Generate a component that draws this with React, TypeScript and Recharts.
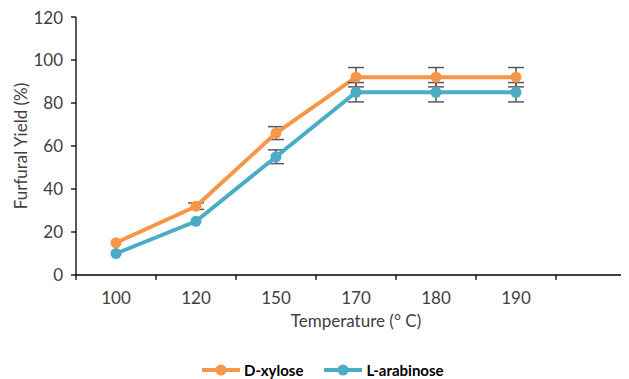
import React from "react";
import { LineChart, Line, XAxis, YAxis, ErrorBar, Legend } from "recharts";

const temperatures = ["100", "120", "150", "170", "180", "190", ""];
const xyloseYield = [15, 32, 66, 92, 92, 92, null];
const xyloseError = [null, 1.5, 3, 4.5, 4.5, 4.5, null];
const arabinoseYield = [10, 25, 55, 85, 85, 85, null];
const arabinoseError = [null, null, 3.2, 4.5, 4.5, 4.5, null];
const yTicks = [0, 20, 40, 60, 80, 100, 120];

const SERIES = [
  { key: "xylose", name: "D-xylose", color: "#F79646" },
  { key: "arabinose", name: "L-arabinose", color: "#4BACC6" },
];

const CHART_W = 640;
const CHART_H = 371;
const Y_AXIS_W = 68;
const MARGIN = { top: 9, right: 12, left: 0, bottom: 0 };
const PLOT_W = CHART_W - Y_AXIS_W - MARGIN.left - MARGIN.right;
const HALF_BAND = PLOT_W / temperatures.length / 2;
const FONT = "Lato, 'Open Sans', sans-serif";
const TEXT = "#404040";

const data = temperatures.map((t, i) => ({
  temperature: t,
  xylose: xyloseYield[i],
  xyloseErr: xyloseError[i],
  arabinose: arabinoseYield[i],
  arabinoseErr: arabinoseError[i],
}));

const TemperatureTick = (props: any) => {
  const { x, y, payload, index } = props;
  const last = index === temperatures.length - 1;
  return (
    <g>
      <line x1={x - HALF_BAND} x2={x - HALF_BAND} y1={y} y2={y + 5} stroke="#000" strokeWidth={1.3} />
      {last && (
        <line x1={x + HALF_BAND} x2={x + HALF_BAND} y1={y} y2={y + 5} stroke="#000" strokeWidth={1.3} />
      )}
      <text
        x={x}
        y={y + 22}
        textAnchor="middle"
        dominantBaseline="central"
        fill={TEXT}
        fontSize={17}
        fontFamily={FONT}
      >
        {payload.value}
      </text>
    </g>
  );
};

const YAxisTitle = (props: any) => {
  const { viewBox } = props;
  const cx = viewBox.x + 12;
  const cy = viewBox.y + viewBox.height / 2;
  return (
    <text
      x={cx}
      y={cy}
      transform={`rotate(-90 ${cx} ${cy})`}
      textAnchor="middle"
      dominantBaseline="central"
      fill={TEXT}
      fontSize={17}
      fontFamily={FONT}
    >
      Furfural Yield (%)
    </text>
  );
};

const LegendContent = () => (
  <div
    style={{
      display: "flex",
      alignItems: "center",
      height: 20,
      paddingLeft: 194,
      transform: "translateY(1px)",
      fontFamily: FONT,
      fontWeight: 700,
      fontSize: 15,
      color: "#000",
    }}
  >
    {SERIES.map((s) => (
      <div key={s.key} style={{ display: "flex", alignItems: "center", marginRight: 21 }}>
        <svg width={40} height={14} style={{ marginRight: 2 }}>
          <line x1={0} x2={38} y1={7} y2={7} stroke={s.color} strokeWidth={4} />
          <circle cx={19} cy={7} r={5.5} fill={s.color} />
        </svg>
        <span>{s.name}</span>
      </div>
    ))}
  </div>
);

export default function App() {
  return (
    <div style={{ width: 621, height: CHART_H, overflow: "hidden", background: "#fff" }}>
      <LineChart width={CHART_W} height={CHART_H} data={data} margin={MARGIN}>
        <XAxis
          dataKey="temperature"
          scale="band"
          interval={0}
          height={84}
          tickSize={0}
          tickMargin={0}
          tick={<TemperatureTick />}
          axisLine={{ stroke: "#000", strokeWidth: 1.3 }}
          label={{
            value: "Temperature (° C)",
            position: "insideTop",
            offset: 40,
            fill: TEXT,
            fontSize: 17,
            fontFamily: FONT,
          }}
        />
        <YAxis
          width={Y_AXIS_W}
          domain={[0, 120]}
          ticks={yTicks}
          tickSize={5}
          tickMargin={8}
          axisLine={{ stroke: "#000", strokeWidth: 1.3 }}
          tickLine={{ stroke: "#000", strokeWidth: 1.3 }}
          tick={{ fill: TEXT, fontSize: 17, fontFamily: FONT }}
          label={<YAxisTitle />}
        />
        <Legend
          verticalAlign="bottom"
          content={<LegendContent />}
          wrapperStyle={{ left: 0, width: CHART_W, height: 20 }}
        />
        {SERIES.map((s) => (
          <Line
            key={s.key}
            dataKey={s.key}
            name={s.name}
            stroke={s.color}
            strokeWidth={4}
            dot={{ r: 5.5, fill: s.color, stroke: s.color, strokeWidth: 0 }}
            activeDot={false}
            isAnimationActive={false}
          >
            <ErrorBar
              dataKey={`${s.key}Err`}
              direction="y"
              width={8}
              stroke="#595959"
              strokeWidth={1.5}
              isAnimationActive={false}
            />
          </Line>
        ))}
      </LineChart>
    </div>
  );
}
